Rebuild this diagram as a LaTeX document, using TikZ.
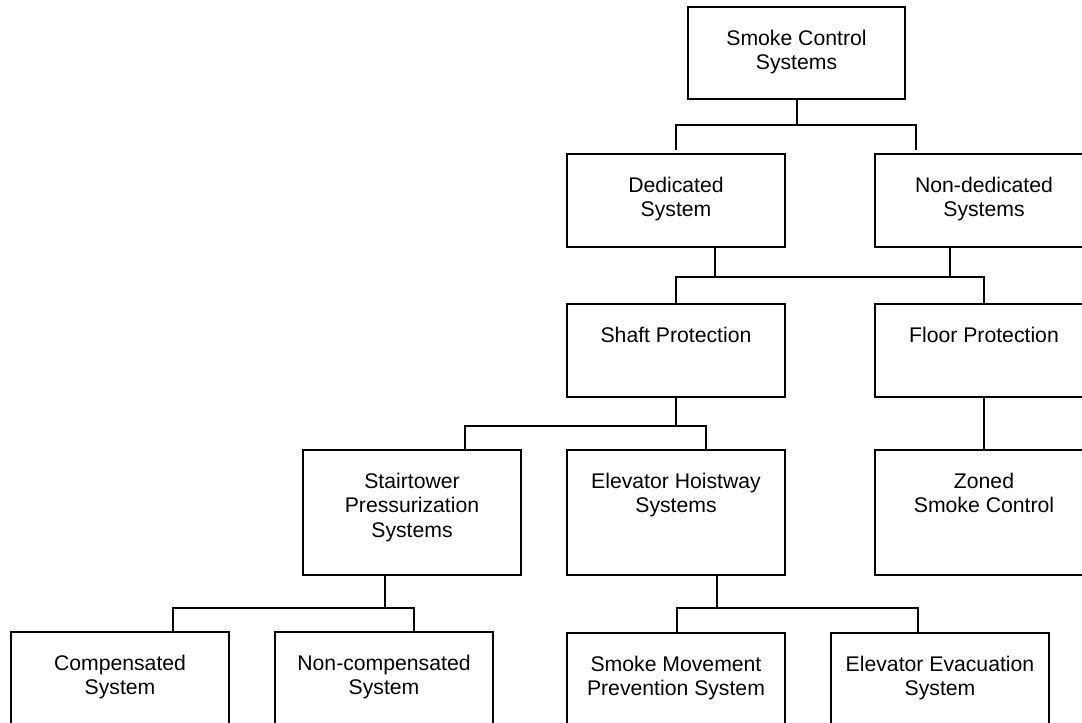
\documentclass[tikz,border=0pt]{standalone}
\usepackage{fontspec}
\setmainfont{Liberation Sans}
\usetikzlibrary{calc}
\newcommand{\bxtext}[3][218pt]{\parbox[c][#2][t]{#1}{\centering\vskip21.5pt\relax\strut #3}}
\tikzset{
  box/.style={draw=black, line width=2pt, inner sep=0pt, outer sep=0pt, anchor=north,
    font=\fontsize{21.2}{24.3}\selectfont, text=black},
  conn/.style={draw=black, line width=2pt}
}
\begin{document}
\begin{tikzpicture}[x=1pt, y=-1pt]
\useasboundingbox (0,0) rectangle (1082,723);
\clip (0,0) rectangle (1082,723);
% boxes
\node[box] (top)     at (796.5,7)   {\bxtext[217pt]{92pt}{Smoke Control\\Systems}};
\node[box] (ded)     at (676,154)   {\bxtext{93pt}{Dedicated\\System}};
\node[box] (nond)    at (984,154)   {\bxtext{93pt}{Non-dedicated\\Systems}};
\node[box] (shaft)   at (676,304)   {\bxtext{93pt}{Shaft Protection}};
\node[box] (floor)   at (984,304)   {\bxtext{93pt}{Floor Protection}};
\node[box] (stair)   at (412,450)   {\bxtext{125pt}{Stairtower\\Pressurization\\Systems}};
\node[box] (elev)    at (676,450)   {\bxtext{125pt}{Elevator Hoistway\\Systems}};
\node[box] (zoned)   at (984,450)   {\bxtext{125pt}{Zoned\\Smoke Control}};
\node[box] (comp)    at (120,632)   {\bxtext{125pt}{Compensated\\System}};
\node[box] (noncomp) at (384,632)   {\bxtext{125pt}{Non-compensated\\System}};
\node[box] (smp)     at (676,633)   {\bxtext{125pt}{Smoke Movement\\Prevention System}};
\node[box] (eva)     at (940,633)   {\bxtext{125pt}{Elevator Evacuation\\System}};
% connectors
\draw[conn] (top.south) -- ++(0,26) coordinate (j1);
\draw[conn] ($(ded.north)+(0,-4)$) |- (j1) -| ($(nond.north)+(-68,-4)$);
\draw[conn] ($(ded.south)+(39,0)$) -- ++(0,30) coordinate (j2);
\draw[conn] ($(nond.south)+(-34,0)$) -- ++(0,30) coordinate (j3);
\draw[conn] (shaft.north) |- (j2) -- (j3) -| (floor.north);
\draw[conn] (shaft.south) -- ++(0,29) coordinate (j4);
\draw[conn] ($(stair.north)+(53,0)$) |- (j4) -| ($(elev.north)+(30,0)$);
\draw[conn] (floor.south) -- (zoned.north);
\draw[conn] ($(stair.south)+(-27,0)$) -- ++(0,33) coordinate (j5);
\draw[conn] ($(comp.north)+(53,0)$) |- (j5) -| ($(noncomp.north)+(30,0)$);
\draw[conn] ($(elev.south)+(41,0)$) -- ++(0,33) coordinate (j6);
\draw[conn] ($(smp.north)+(1,0)$) |- (j6) -| ($(eva.north)+(-22,0)$);
\end{tikzpicture}
\end{document}
